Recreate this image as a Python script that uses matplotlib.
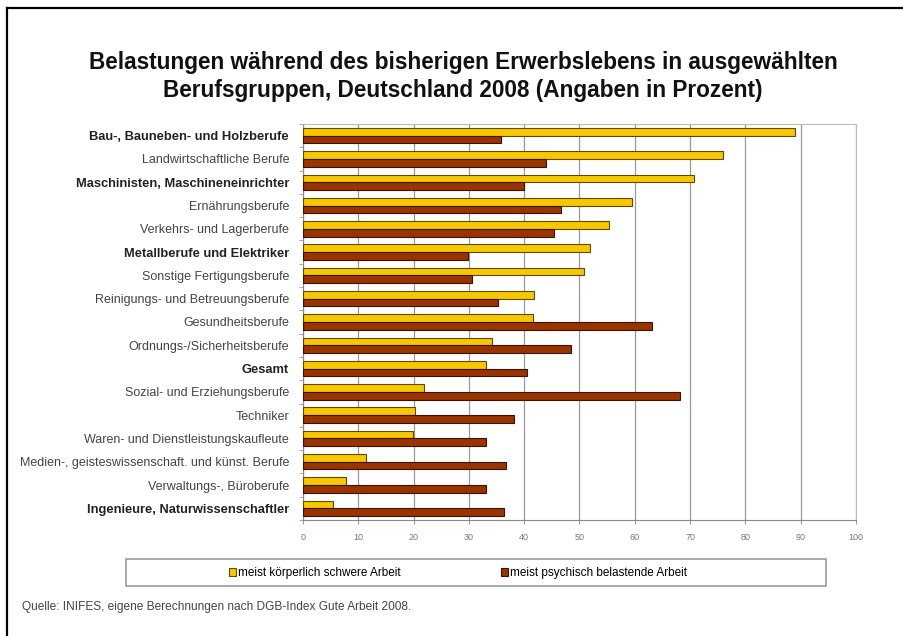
import matplotlib
matplotlib.use("Agg")
import matplotlib.pyplot as plt
from matplotlib.patches import Rectangle
from matplotlib.lines import Line2D
from matplotlib.ticker import FixedLocator
import numpy as np

plt.rcParams['font.family'] = ['Liberation Sans', 'DejaVu Sans']

# categories, top to bottom
berufe = ["Bau-, Bauneben- und Holzberufe", "Landwirtschaftliche Berufe",
          "Maschinisten, Maschineneinrichter", "Ernährungsberufe",
          "Verkehrs- und Lagerberufe", "Metallberufe und Elektriker",
          "Sonstige Fertigungsberufe", "Reinigungs- und Betreuungsberufe",
          "Gesundheitsberufe", "Ordnungs-/Sicherheitsberufe", "Gesamt",
          "Sozial- und Erziehungsberufe", "Techniker",
          "Waren- und Dienstleistungskaufleute",
          "Medien-, geisteswissenschaft. und künst. Berufe",
          "Verwaltungs-, Büroberufe", "Ingenieure, Naturwissenschaftler"]
fett = ["Bau-, Bauneben- und Holzberufe", "Maschinisten, Maschineneinrichter",
        "Metallberufe und Elektriker", "Gesamt",
        "Ingenieure, Naturwissenschaftler"]

koerperlich = [89, 76, 70.7, 59.5, 55.3, 51.9, 50.8, 41.8, 41.6, 34.2, 33.1,
               21.9, 20.3, 19.9, 11.4, 7.7, 5.5]
psychisch = [35.8, 44, 40, 46.7, 45.4, 29.8, 30.6, 35.3, 63.1, 48.5, 40.5,
             68.2, 38.2, 33.1, 36.7, 33.1, 36.4]

serien = ["meist körperlich schwere Arbeit", "meist psychisch belastende Arbeit"]
x_ticks = list(range(0, 101, 10))

gelb = "#f7c800"
braun = "#993300"

fig = plt.figure(figsize=(9.04, 6.36), dpi=100)
ax = fig.add_axes([303 / 904, 1 - 520 / 636, 553 / 904, 396 / 636])

y = np.arange(len(berufe))
h = 0.33
b1 = ax.barh(y - h / 2, koerperlich, height=h, color=gelb,
             edgecolor="#5c4a00", linewidth=0.8, zorder=3, label=serien[0])
b2 = ax.barh(y + h / 2, psychisch, height=h, color=braun,
             edgecolor="#3a1200", linewidth=0.8, zorder=3, label=serien[1])

ax.set_xlim(0, 100)
ax.set_ylim(len(berufe) - 0.5, -0.5)
ax.set_xticks(x_ticks)
ax.set_xticklabels([str(t) for t in x_ticks], fontsize=6.5, color="#777777")
ax.tick_params(axis="x", length=3, color="#999999", pad=6)
ax.grid(axis="x", color="#999999", linewidth=0.9, zorder=0)

ax.set_yticks(y)
ax.set_yticklabels(berufe)
for lbl in ax.get_yticklabels():
    if lbl.get_text() in fett:
        lbl.set_fontweight("bold")
        lbl.set_fontsize(9.3)
        lbl.set_color("#222222")
    else:
        lbl.set_fontsize(9)
        lbl.set_color("#444444")
ax.tick_params(axis="y", which="major", length=0, pad=10)
ax.yaxis.set_minor_locator(FixedLocator(np.arange(-0.5, len(berufe), 1)))
ax.tick_params(axis="y", which="minor", length=3, color="#999999")

for s in ["top", "right"]:
    ax.spines[s].set_color("#bbbbbb")
for s in ["left", "bottom"]:
    ax.spines[s].set_color("#888888")

fig.text(463 / 904, 1 - 62 / 636, "Belastungen während des bisherigen Erwerbslebens in ausgewählten",
         ha="center", va="center", fontsize=16.3, fontweight="bold", color="#111111")
fig.text(463 / 904, 1 - 90 / 636, "Berufsgruppen, Deutschland 2008 (Angaben in Prozent)",
         ha="center", va="center", fontsize=16.3, fontweight="bold", color="#111111")

# legend box
fig.add_artist(Rectangle((126 / 904, 1 - 586 / 636), 700 / 904, 27 / 636,
                         transform=fig.transFigure, fill=False,
                         edgecolor="#999999", linewidth=1.2))
fig.legend(handles=[b1, b2], loc="center left", bbox_to_anchor=(218 / 904, 1 - 573 / 636),
           ncol=2, frameon=False, fontsize=8.5, handlelength=0.6, handleheight=0.6,
           handletextpad=0.2, columnspacing=8.5)

fig.text(22 / 904, 1 - 607 / 636,
         "Quelle: INIFES, eigene Berechnungen nach DGB-Index Gute Arbeit 2008.",
         ha="left", va="center", fontsize=8.6, color="#444444")

# outer frame
fig.add_artist(Line2D([7 / 904, 7 / 904], [0, 1 - 8 / 636], transform=fig.transFigure,
                      color="black", linewidth=1.6))
fig.add_artist(Line2D([7 / 904, 1], [1 - 8 / 636, 1 - 8 / 636], transform=fig.transFigure,
                      color="black", linewidth=1.6))

fig.savefig("out.png", dpi=100)
